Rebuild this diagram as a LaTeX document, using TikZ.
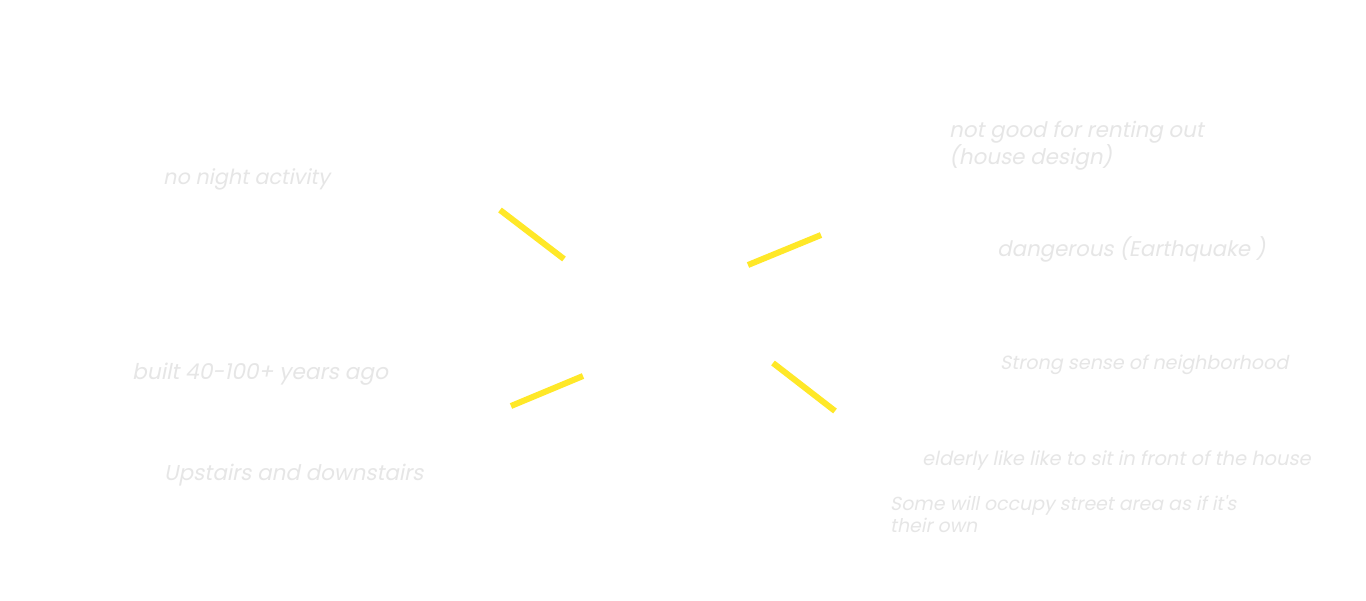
\documentclass[tikz,border=0pt]{standalone}
\usepackage{fontspec}
\setmainfont{Poppins}[FakeSlant=0.2]
\definecolor{notegray}{RGB}{230,230,230}
\definecolor{rayyellow}{RGB}{255,232,40}
\tikzset{note/.style={anchor=west, inner sep=0pt, text=notegray, align=left},
ray/.style={rayyellow, line width=6pt}}
\begin{document}
\begin{tikzpicture}[x=1pt,y=-1pt]
\useasboundingbox[fill=white] (0,0) rectangle (1366,600);
\node[note, font=\fontsize{20.8}{24}\selectfont] (night) at (163,179){no night activity};
\node[note, font=\fontsize{21.7}{25}\selectfont] (built) at (132,374){built 40-100+ years ago};
\node[note, font=\fontsize{21.5}{25}\selectfont] (stairs) at (164,475){Upstairs and downstairs};
\node[note, font=\fontsize{21.4}{25}\selectfont] (rent) at (949,146){not good for renting out\\(house design)};
\node[note, font=\fontsize{21.3}{25}\selectfont] (quake) at (997,249){dangerous (Earthquake )};
\node[note, font=\fontsize{19.1}{22}\selectfont] (strong) at (1000,365){Strong sense of neighborhood};
\node[note, font=\fontsize{19.4}{22}\selectfont] (elderly) at (922,461){elderly like like to sit in front of the house};
\node[note, font=\fontsize{18.9}{22}\selectfont] (street) at (890,514){Some will occupy street area as if it\textquotesingle s\\their own};
\coordinate (r1a) at (500,210);
\coordinate (r1b) at (564,259);
\coordinate (r2a) at (748,265);
\coordinate (r2b) at (821,235);
\coordinate (r3a) at (511,406);
\coordinate (r3b) at (583,376);
\coordinate (r4a) at (773,363);
\coordinate (r4b) at (835,411);
\draw[ray](r1a) -- (r1b);
\draw[ray](r2a) -- (r2b);
\draw[ray](r3a) -- (r3b);
\draw[ray](r4a) -- (r4b);
\end{tikzpicture}
\end{document}
